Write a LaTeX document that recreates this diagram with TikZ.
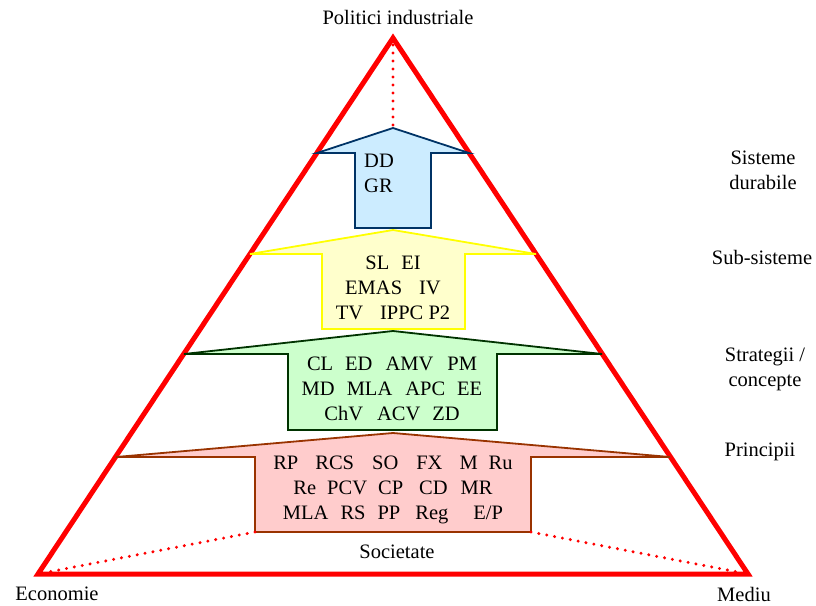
\documentclass[tikz,border=0pt]{standalone}
\usepackage{fontspec}
\setmainfont{Liberation Serif}
\definecolor{trired}{HTML}{FF0000}
\definecolor{bluefill}{HTML}{CCECFF}
\definecolor{blueline}{HTML}{003366}
\definecolor{yelfill}{HTML}{FFFFCC}
\definecolor{yelline}{HTML}{FFFF00}
\definecolor{grnfill}{HTML}{CCFFCC}
\definecolor{grnline}{HTML}{003300}
\definecolor{redfill}{HTML}{FFCCCC}
\definecolor{redline}{HTML}{993300}
\begin{document}
\begin{tikzpicture}[x=1pt,y=-1pt,
  lbl/.style={inner sep=0pt, font=\fontsize{20.5}{25}\selectfont, align=center},
  frame/.style={draw=trired, line width=5pt, line join=miter},
  dotline/.style={draw=trired, line width=3.3pt, line cap=round, dash pattern=on 0pt off 8pt},
  level/.style={line width=1.8pt, line join=miter},
  bluelevel/.style={level, draw=blueline, fill=bluefill},
  yellevel/.style={level, draw=yelline, fill=yelfill},
  grnlevel/.style={level, draw=grnline, fill=grnfill},
  redlevel/.style={level, draw=redline, fill=redfill}
]
\useasboundingbox (0,0) rectangle (816,605);

% corners of the triangle
\coordinate (apex) at (393,38);
\coordinate (econ) at (38,574);
\coordinate (env)  at (748,574);

% outer triangle
\draw[frame] (apex) -- (econ) -- (env) -- cycle;

% level arrows, bottom to top
\coordinate (redtip) at (393,433);
\coordinate (redbl) at (255,532);
\coordinate (redbr) at (531,532);
\draw[redlevel] (redtip) -- (670,457) -- (531,457) -- (redbr) -- (redbl) -- (255,457) -- (116,457) -- cycle;

\coordinate (grntip) at (393,331);
\draw[grnlevel] (grntip) -- (602,354) -- (497,354) -- (497,430) -- (288,430) -- (288,354) -- (184,354) -- cycle;

\coordinate (yeltip) at (393,230);
\draw[yellevel] (yeltip) -- (536,254) -- (465,254) -- (465,329) -- (322,329) -- (322,254) -- (250,254) -- cycle;

\coordinate (bluetip) at (393,128);
\draw[bluelevel] (bluetip) -- (469,153) -- (431,153) -- (431,228) -- (355,228) -- (355,153) -- (317,153) -- cycle;

% dotted guide lines
\draw[dotline, shorten <=7pt] (apex) -- (bluetip);
\draw[dotline, shorten >=12pt] (redbl) -- (econ);
\draw[dotline, shorten >=12pt] (redbr) -- (env);

% texts inside the arrows
\node[lbl, align=left, anchor=west] (sys) at (364,173.5) {DD\\GR};
\node[lbl] (subsys) at (393,288) {SL\hspace{12pt}EI\\EMAS\hspace{17pt}IV\\TV\hspace{17pt}IPPC P2};
\node[lbl] (strat) at (392,389) {CL\hspace{12pt}ED\hspace{13pt}AMV\hspace{14pt}PM\\MD\hspace{12pt}MLA\hspace{13pt}APC\hspace{12pt}EE\\ChV\hspace{14pt}ACV\hspace{12pt}ZD};
\node[lbl] (princ) at (393,490) {RP\hspace{17pt}RCS\hspace{18pt}SO\hspace{18pt}FX\hspace{17pt}M\hspace{11pt}Ru\\Re\hspace{11pt}PCV\hspace{11pt}CP\hspace{16pt}CD\hspace{13pt}MR\\MLA\hspace{12pt}RS\hspace{12pt}PP\hspace{15pt}Reg\hspace{25pt}E/P};

% corner and side labels
\node[lbl] (top) at (398,17) {Politici industriale};
\node[lbl] (soc) at (397,552) {Societate};
\node[lbl] (eco) at (57,594) {Economie};
\node[lbl] (med) at (744,594) {Mediu};

% level names on the right
\node[lbl] (l4) at (763,170) {Sisteme\\durabile};
\node[lbl] (l3) at (762,257) {Sub-sisteme};
\node[lbl] (l2) at (765,369.5) {Strategii /\\concepte};
\node[lbl] (l1) at (760,452) {Principii};
\end{tikzpicture}
\end{document}
